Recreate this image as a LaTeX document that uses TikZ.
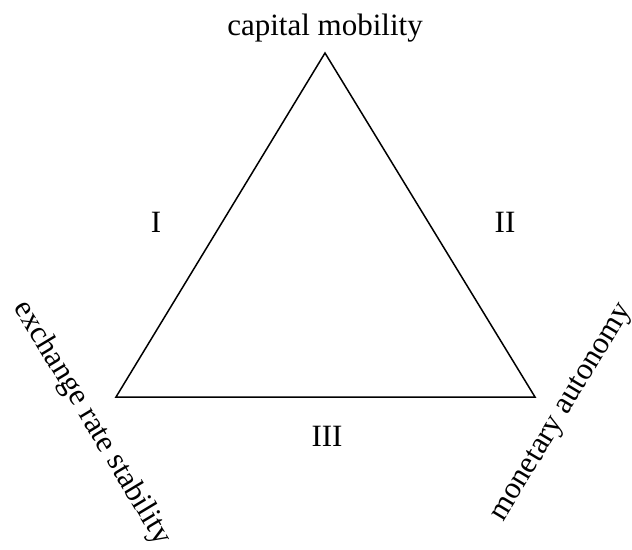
\documentclass[tikz,border=0pt]{standalone}
\usepackage{fontspec}
\setmainfont{Liberation Serif}
\begin{document}
\begin{tikzpicture}[x=1pt,y=-1pt,
  lbl/.style={font=\fontsize{31}{36}\selectfont, inner sep=0pt},
  edge/.style={line width=1.5pt, line join=miter}]
\useasboundingbox (0,0) rectangle (632,549);
\coordinate (T) at (325,53);
\coordinate (L) at (116,397);
\coordinate (R) at (535,397);
\draw[edge] (T) -- (L) -- (R) -- cycle;
\node[lbl, anchor=base] (cm) at (325,35) {capital mobility};
\node[lbl] (one) at (156,222) {I};
\node[lbl] (two) at (505,222) {II};
\node[lbl] (three) at (327,436) {III};
\node[lbl, rotate=-59] (ers) at (92,423) {exchange rate stability};
\node[lbl, rotate=59] (ma) at (563,413) {monetary autonomy};
\end{tikzpicture}
\end{document}
